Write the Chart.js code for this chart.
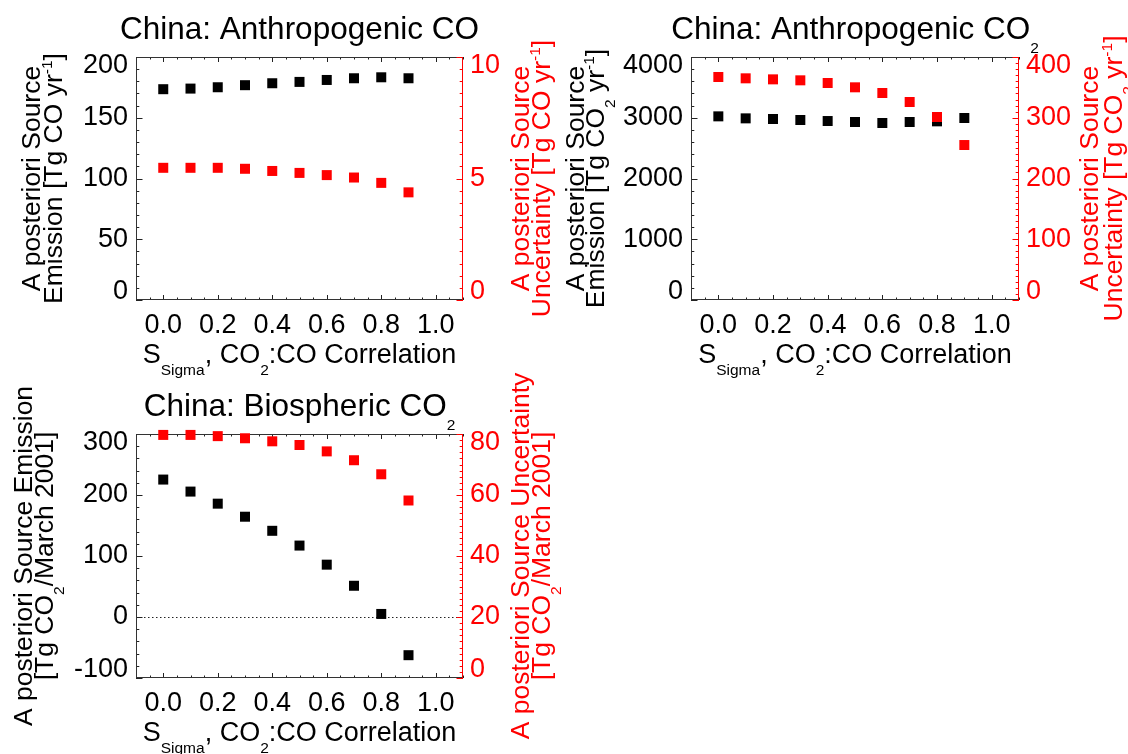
<!DOCTYPE html>
<html lang="en">
<head>
<meta charset="utf-8">
<title>China: a posteriori source</title>
<script src="https://cdn.jsdelivr.net/npm/chart.js@4.4.1/dist/chart.umd.min.js"></script>
<style>
  html, body { margin: 0; padding: 0; background: #ffffff; }
  #quadro { position: relative; width: 1128px; height: 754px; overflow: hidden; }
  #quadro canvas { position: absolute; left: 0; top: 0; }
</style>
</head>
<body>
<div id="quadro">
  <canvas id="graficoCO" width="1128" height="754"></canvas>
  <canvas id="graficoCO2" width="1128" height="754"></canvas>
  <canvas id="graficoBio" width="1128" height="754"></canvas>
</div>
<script>
// EIXO X: S_Sigma, CORRELAÇÃO CO2:CO
const correlacao = [0.0, 0.1, 0.2, 0.3, 0.4, 0.5, 0.6, 0.7, 0.8, 0.9];
const ticksX = [0.0, 0.2, 0.4, 0.6, 0.8, 1.0];
const limitesX = [-0.1, 1.1];

// CHINA: CO ANTROPOGÊNICO
const emissaoCO = [173.5, 174.0, 175.1, 176.8, 178.4, 179.5, 181.1, 182.5, 183.3, 182.5];
const incertezaCO = [5.44, 5.44, 5.44, 5.40, 5.31, 5.23, 5.14, 5.04, 4.82, 4.43];
const ticksEmissaoCO = [0, 50, 100, 150, 200];
const ticksIncertezaCO = [0, 5, 10];

// CHINA: CO2 ANTROPOGÊNICO
const emissaoCO2 = [3023, 2990, 2979, 2963, 2946, 2930, 2914, 2930, 2941, 2996];
const incertezaCO2 = [367.1, 364.9, 363.2, 361.6, 357.2, 350.1, 340.7, 325.9, 301.2, 255.1];
const ticksEmissaoCO2 = [0, 1000, 2000, 3000, 4000];
const ticksIncertezaCO2 = [0, 100, 200, 300, 400];

// CHINA: CO2 BIOSFÉRICO
const emissaoBio = [225.3, 205.6, 185.8, 164.4, 141.3, 117.1, 85.8, 51.2, 5.0, -62.6];
const incertezaBio = [79.7, 79.7, 79.3, 78.6, 77.6, 76.4, 74.3, 71.4, 66.8, 58.2];
const ticksEmissaoBio = [-100, 0, 100, 200, 300];
const ticksIncertezaBio = [0, 20, 40, 60, 80];


// FONTES E CORES
const FONTE = '"Liberation Sans", Arial, Helvetica, sans-serif';
const TAM_TEXTO = 27;
const TAM_EIXO_Y = 26.5;
const TAM_TITULO = 31.5;
const TAM_INDICE = 15.5;
const VERMELHO = "#ff0000";
const PRETO = "#000000";

// Larguras fixas dos eixos
const LARG_ESQ = 90;
const LARG_DIR = 60;
const ALT_X = 40;


// PAINÉIS (posição da área do gráfico e textos)
const paineis = [
    {
        id: "graficoCO",
        area: { left: 136, top: 57, right: 463, bottom: 300 },
        emissao: emissaoCO,
        incerteza: incertezaCO,
        ticksEsq: ticksEmissaoCO, menorEsq: 10,
        ticksDir: ticksIncertezaCO, menorDir: 0.5,
        titulo: [["China: Anthropogenic CO", 0]],
        tituloEsq: [
            [["A posteriori Source", 0]],
            [["Emission [Tg CO yr", 0], ["-1", 1], ["]", 0]],
        ],
        deslocEsq: [-96, -74],
        tituloDir: [
            [["A posteriori Source", 0]],
            [["Uncertainty [Tg CO yr", 0], ["-1", 1], ["]", 0]],
        ],
        deslocDir: [66, 87],
        linhaZero: false,
    },
    {
        id: "graficoCO2",
        area: { left: 691, top: 57, right: 1019, bottom: 300 },
        emissao: emissaoCO2,
        incerteza: incertezaCO2,
        ticksEsq: ticksEmissaoCO2, menorEsq: 200,
        ticksDir: ticksIncertezaCO2, menorDir: 10,
        titulo: [["China: Anthropogenic CO", 0], ["2", -1]],
        tituloEsq: [
            [["A posteriori Source", 0]],
            [["Emission [Tg CO", 0], ["2", -1], [" yr", 0], ["-1", 1], ["]", 0]],
        ],
        deslocEsq: [-107, -87],
        tituloDir: [
            [["A posteriori Source", 0]],
            [["Uncertainty [Tg CO", 0], ["2", -1], [" yr", 0], ["-1", 1], ["]", 0]],
        ],
        deslocDir: [79, 103],
        linhaZero: false,
    },
    {
        id: "graficoBio",
        area: { left: 136, top: 434, right: 463, bottom: 678 },
        emissao: emissaoBio,
        incerteza: incertezaBio,
        ticksEsq: ticksEmissaoBio, menorEsq: 20,
        ticksDir: ticksIncertezaBio, menorDir: 2,
        titulo: [["China: Biospheric CO", 0], ["2", -1]],
        tituloEsq: [
            [["A posteriori Source Emission", 0]],
            [["[Tg CO", 0], ["2", -1], ["/March 2001]", 0]],
        ],
        deslocEsq: [-104, -83],
        tituloDir: [
            [["A posteriori Source Uncertainty", 0]],
            [["[Tg CO", 0], ["2", -1], ["/March 2001]", 0]],
        ],
        deslocDir: [66, 87],
        linhaZero: true,
    },
];

const tituloX = [
    ["S", 0], ["Sigma", -1], [", CO", 0], ["2", -1], [":CO Correlation", 0],
];


// STRING DE FONTE
function fonte(tamanho) {
    return tamanho + "px " + FONTE;
}


// DESENHA TEXTO COM ÍNDICES (centrado em x, linha de base y)
function desenharPartes(ctx, partes, x, y, tamanho, desce, sobe) {

    let total = 0;

    partes.forEach(([texto, modo]) => {
        ctx.font = fonte(modo ? TAM_INDICE : tamanho);
        total += ctx.measureText(texto).width;
    });

    let cx = x - total / 2;

    ctx.textAlign = "left";
    ctx.textBaseline = "alphabetic";

    partes.forEach(([texto, modo]) => {
        ctx.font = fonte(modo ? TAM_INDICE : tamanho);
        const dy = modo === -1 ? desce : (modo === 1 ? -sobe : 0);
        ctx.fillText(texto, cx, y + dy);
        cx += ctx.measureText(texto).width;
    });
}


// TEXTO VERTICAL (lido de baixo para cima)
function desenharVertical(ctx, partes, xBase, yCentro, cor) {

    ctx.save();
    ctx.translate(xBase, yCentro);
    ctx.rotate(-Math.PI / 2);
    ctx.fillStyle = cor;
    desenharPartes(ctx, partes, 0, 0, TAM_EIXO_Y, 11, 10);
    ctx.restore();
}


// LISTA DE MARCAS MAIORES E MENORES
function marcasEixo(min, max, passoMenor, passoMaior) {

    const n = Math.round((max - min) / passoMenor);
    const lista = [];

    for (let i = 0; i <= n; i++) {
        const v = min + i * passoMenor;
        const r = (v - passoMaior * Math.round(v / passoMaior));
        lista.push({ v, maior: Math.abs(r) < passoMenor * 1e-3 });
    }

    return lista;
}


// PLUGIN: MOLDURA, MARCAS E TEXTOS
function pluginMoldura(p) {

    return {
        id: "moldura" + p.id,

        beforeDatasetsDraw(chart) {

            const ctx = chart.ctx;
            const a = chart.chartArea;
            const sx = chart.scales.x;
            const sy = chart.scales.y;
            const sy2 = chart.scales.y2;

            ctx.save();
            ctx.lineWidth = 1;

            // Linha pontilhada no zero
            if (p.linhaZero) {
                const y0 = Math.round(sy.getPixelForValue(0)) + 0.5;
                ctx.strokeStyle = "#222222";
                ctx.setLineDash([1.5, 2.5]);
                ctx.beginPath();
                ctx.moveTo(a.left, y0);
                ctx.lineTo(a.right, y0);
                ctx.stroke();
                ctx.setLineDash([]);
            }

            // Marcas do eixo X (baixo e cima)
            ctx.strokeStyle = "#222222";
            ctx.beginPath();
            marcasEixo(limitesX[0], limitesX[1], 0.05, 0.2).forEach((m) => {
                const x = Math.round(sx.getPixelForValue(m.v)) + 0.5;
                const len = m.maior ? 5 : 2.5;
                ctx.moveTo(x, a.bottom);
                ctx.lineTo(x, a.bottom - len);
                ctx.moveTo(x, a.top);
                ctx.lineTo(x, a.top + len);
            });
            ctx.stroke();

            // Marcas do eixo Y esquerdo
            const te = p.ticksEsq;
            ctx.beginPath();
            marcasEixo(te[0], te[te.length - 1], p.menorEsq, te[1] - te[0]).forEach((m) => {
                const y = Math.round(sy.getPixelForValue(m.v)) + 0.5;
                const len = m.maior ? 6.5 : 3.3;
                ctx.moveTo(a.left, y);
                ctx.lineTo(a.left + len, y);
            });
            ctx.stroke();

            // Moldura preta (esquerda, cima, baixo)
            ctx.strokeStyle = "#333333";
            ctx.beginPath();
            ctx.moveTo(a.right, a.top + 0.5);
            ctx.lineTo(a.left + 0.5, a.top + 0.5);
            ctx.lineTo(a.left + 0.5, a.bottom - 0.5);
            ctx.lineTo(a.right, a.bottom - 0.5);
            ctx.stroke();

            // Marcas do eixo Y direito (vermelho)
            const td = p.ticksDir;
            ctx.strokeStyle = VERMELHO;
            ctx.beginPath();
            marcasEixo(td[0], td[td.length - 1], p.menorDir, td[1] - td[0]).forEach((m) => {
                const y = Math.round(sy2.getPixelForValue(m.v)) + 0.5;
                const len = m.maior ? 6.5 : 3.3;
                ctx.moveTo(a.right, y);
                ctx.lineTo(a.right - len, y);
            });
            ctx.moveTo(a.right - 0.5, a.top);
            ctx.lineTo(a.right - 0.5, a.bottom);
            ctx.stroke();

            ctx.restore();
        },

        afterDraw(chart) {

            const ctx = chart.ctx;
            const a = chart.chartArea;
            const cx = (a.left + a.right) / 2;
            const cy = (a.top + a.bottom) / 2;

            ctx.save();

            // Título
            ctx.fillStyle = PRETO;
            desenharPartes(ctx, p.titulo, cx, a.top - 18, TAM_TITULO, 14, 10);

            // Título do eixo X
            desenharPartes(ctx, tituloX, cx, a.bottom + 63, TAM_TEXTO, 11.5, 10);

            // Títulos dos eixos Y
            p.tituloEsq.forEach((linha, i) => {
                desenharVertical(ctx, linha, a.left + p.deslocEsq[i], cy, PRETO);
            });

            p.tituloDir.forEach((linha, i) => {
                desenharVertical(ctx, linha, a.right + p.deslocDir[i], cy, VERMELHO);
            });

            ctx.restore();
        },
    };
}


// FONTE DOS RÓTULOS (extremos deslocados para dentro)
function fonteTickY(c) {

    const extremo = c.tick && c.scale &&
        (c.tick.value === c.scale.min || c.tick.value === c.scale.max);

    return {
        family: FONTE,
        size: TAM_TEXTO,
        lineHeight: extremo ? "17px" : 1.2,
    };
}


// RÓTULO DO EIXO Y
function rotuloY(valor, ticks) {

    const texto = String(valor);

    if (valor === ticks[ticks.length - 1]) return ["", texto];
    if (valor === ticks[0]) return [texto, ""];

    return texto;
}


// CONFIGURA EIXO Y
function eixoY(ticks, posicao, cor, espaco, largura) {

    return {
        type: "linear",
        position: posicao,
        min: ticks[0],
        max: ticks[ticks.length - 1],
        afterBuildTicks: (escala) => {
            escala.ticks = ticks.map((v) => ({ value: v }));
        },
        afterFit: (escala) => {
            escala.width = largura;
        },
        grid: { display: false, drawTicks: false },
        border: { display: false },
        ticks: {
            color: cor,
            padding: espaco,
            autoSkip: false,
            font: fonteTickY,
            callback: (valor) => rotuloY(valor, ticks),
        },
    };
}


// CRIA UM PAINEL
function criarPainel(p) {

    const canvas = document.getElementById(p.id);
    const a = p.area;

    const pontos = (serie) => correlacao.map((x, i) => ({ x, y: serie[i] }));

    new Chart(canvas, {

        type: "scatter",

        data: {
            datasets: [
                // INCERTEZA (vermelho, por cima)
                {
                    label: "Uncertainty",
                    data: pontos(p.incerteza),
                    yAxisID: "y2",
                    backgroundColor: VERMELHO,
                    order: 1,
                },
                // EMISSÃO (preto)
                {
                    label: "Emission",
                    data: pontos(p.emissao),
                    yAxisID: "y",
                    backgroundColor: PRETO,
                    order: 2,
                },
            ],
        },

        options: {

            responsive: false,
            animation: false,
            devicePixelRatio: 1,

            layout: {
                padding: {
                    left: a.left - LARG_ESQ,
                    top: a.top,
                    right: 1128 - a.right - LARG_DIR,
                    bottom: 754 - a.bottom - ALT_X,
                },
            },

            elements: {
                point: {
                    pointStyle: "rect",
                    radius: 7.07,
                    hoverRadius: 7.07,
                    borderWidth: 0,
                },
            },

            datasets: {
                scatter: { clip: false },
            },

            plugins: {
                legend: { display: false },
                tooltip: { enabled: false },
                title: { display: false },
            },

            scales: {

                x: {
                    type: "linear",
                    position: "bottom",
                    min: limitesX[0],
                    max: limitesX[1],
                    afterBuildTicks: (escala) => {
                        escala.ticks = ticksX.map((v) => ({ value: v }));
                    },
                    afterFit: (escala) => {
                        escala.height = ALT_X;
                    },
                    grid: { display: false, drawTicks: false },
                    border: { display: false },
                    ticks: {
                        color: PRETO,
                        padding: 9,
                        maxRotation: 0,
                        autoSkip: false,
                        font: { family: FONTE, size: TAM_TEXTO },
                        callback: (valor) => Number(valor).toFixed(1),
                    },
                },

                y: eixoY(p.ticksEsq, "left", PRETO, 8, LARG_ESQ),

                y2: eixoY(p.ticksDir, "right", VERMELHO, 7, LARG_DIR),
            },
        },

        plugins: [pluginMoldura(p)],
    });
}


// EXECUTA APÓS CARREGAR PÁGINA
document.addEventListener("DOMContentLoaded", function () {
    paineis.forEach(criarPainel);
});
</script>
</body>
</html>
